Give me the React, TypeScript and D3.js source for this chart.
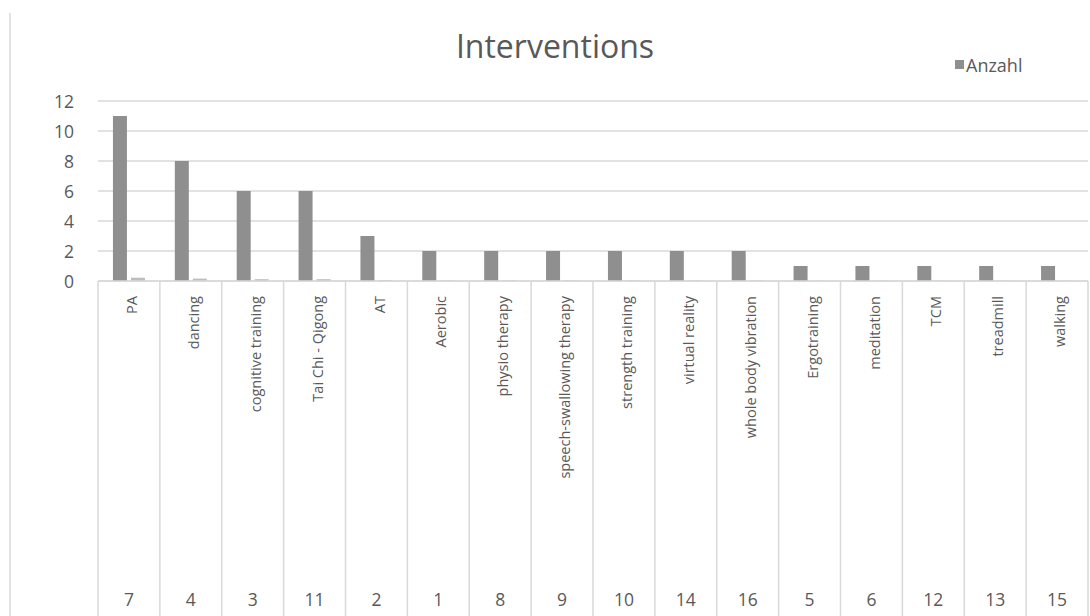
import React from "react";
import * as d3 from "d3";

// Intervention categories (inner label) and their study IDs (outer label)
const categories: string[] = [
  "PA",
  "dancing",
  "cognitive training",
  "Tai Chi - Qigong",
  "AT",
  "Aerobic",
  "physio therapy",
  "speech-swallowing therapy",
  "strength training",
  "virtual reality",
  "whole body vibration",
  "Ergotraining",
  "meditation",
  "TCM",
  "treadmill",
  "walking",
];
const groupIds: string[] = ["7", "4", "3", "11", "2", "1", "8", "9", "10", "14", "16", "5", "6", "12", "13", "15"];

// Number of studies per intervention
const anzahl: number[] = [11, 8, 6, 6, 3, 2, 2, 2, 2, 2, 2, 1, 1, 1, 1, 1];
// Share of all studies (second, unlabeled series)
const anteil: number[] = [0.22, 0.16, 0.12, 0.12, 0.06, 0.04, 0.04, 0.04, 0.04, 0.04, 0.04, 0.02, 0.02, 0.02, 0.02, 0.02];

const yTicks: number[] = [0, 2, 4, 6, 8, 10, 12];

const W = 1090;
const H = 616;
const FONT = "'Open Sans', 'Noto Sans', sans-serif";
const TEXT = "#595959";
const GRID = "#d9d9d9";

export default function App() {
  const left = 98;
  const right = 1088;
  const top = 101;
  const base = 281;

  const x = d3.scaleBand<string>().domain(categories).range([left, right]).padding(0);
  const y = d3.scaleLinear().domain([0, 12]).range([base, top]);
  const bw = 14;
  const gap = 2;

  const boundaries = categories.map((c) => x(c)!).concat([right]);

  return (
    <svg width={W} height={H} style={{ position: "absolute", left: 0, top: 0, fontFamily: FONT }}>
      <rect x={0} y={0} width={W} height={H} fill="#fff" />
      {/* chart area border */}
      <line x1={10} x2={10} y1={13} y2={H} stroke={GRID} strokeWidth={1.5} />

      {/* title */}
      <text x={555} y={58} textAnchor="middle" fontSize={32} fill={TEXT}>
        Interventions
      </text>

      {/* legend */}
      <rect x={955} y={60} width={9} height={9} fill="#8f8f8f" />
      <text x={966} y={72} fontSize={18} fill={TEXT}>
        Anzahl
      </text>

      {/* gridlines and y labels */}
      {yTicks.map((t) => (
        <g key={t}>
          <line x1={left} x2={right} y1={y(t)} y2={y(t)} stroke={GRID} strokeWidth={1.5} />
          <text x={74} y={y(t)} dy="0.4em" textAnchor="end" fontSize={17.5} fill={TEXT}>
            {t}
          </text>
        </g>
      ))}

      {/* bars */}
      {categories.map((c, i) => {
        const cx = x(c)! + x.bandwidth() / 2;
        return (
          <g key={c}>
            <rect x={cx - gap - bw} y={y(anzahl[i])} width={bw} height={base - y(anzahl[i])} fill="#8f8f8f" />
            <rect x={cx + gap} y={y(anteil[i])} width={bw} height={base - y(anteil[i])} fill="#bdbdbd" />
          </g>
        );
      })}

      {/* category axis */}
      <line x1={left} x2={right} y1={base} y2={base} stroke={GRID} strokeWidth={1.5} />
      {boundaries.map((bx, i) => (
        <line key={i} x1={bx} x2={bx} y1={base} y2={H} stroke={GRID} strokeWidth={1.5} />
      ))}
      {categories.map((c, i) => {
        const cx = x(c)! + x.bandwidth() / 2;
        return (
          <g key={c}>
            <text
              transform={`translate(${cx + 3},296) rotate(-90)`}
              dy="0.35em"
              textAnchor="end"
              fontSize={14.5}
              fill={TEXT}
            >
              {c}
            </text>
            <text x={cx} y={606} textAnchor="middle" fontSize={17.5} fill={TEXT}>
              {groupIds[i]}
            </text>
          </g>
        );
      })}
    </svg>
  );
}
